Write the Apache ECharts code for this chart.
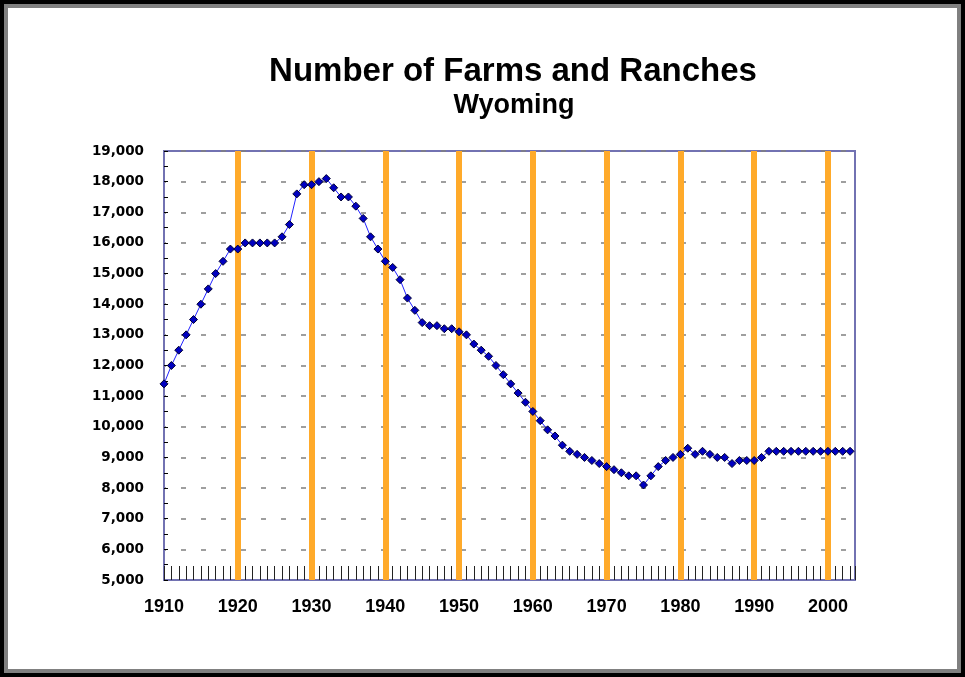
<!DOCTYPE html>
<html>
<head>
<meta charset="utf-8">
<title>Number of Farms and Ranches - Wyoming</title>
<script src="https://cdn.jsdelivr.net/npm/echarts@6/dist/echarts.min.js"></script>
<style>
  html, body { margin: 0; padding: 0; background: #fff; }
  #chart { position: absolute; left: 0; top: 0; width: 965px; height: 677px; }
  #frame {
    position: absolute; left: 0; top: 0; width: 965px; height: 677px;
    box-sizing: border-box; border: 4px solid #000;
    box-shadow: inset 0 0 0 4px #808080; pointer-events: none;
  }
</style>
</head>
<body>
<div id="chart"></div>
<div id="frame"></div>
<script>
// years on the x axis
const years = [
  1910, 1911, 1912, 1913, 1914, 1915, 1916, 1917, 1918, 1919,
  1920, 1921, 1922, 1923, 1924, 1925, 1926, 1927, 1928, 1929,
  1930, 1931, 1932, 1933, 1934, 1935, 1936, 1937, 1938, 1939,
  1940, 1941, 1942, 1943, 1944, 1945, 1946, 1947, 1948, 1949,
  1950, 1951, 1952, 1953, 1954, 1955, 1956, 1957, 1958, 1959,
  1960, 1961, 1962, 1963, 1964, 1965, 1966, 1967, 1968, 1969,
  1970, 1971, 1972, 1973, 1974, 1975, 1976, 1977, 1978, 1979,
  1980, 1981, 1982, 1983, 1984, 1985, 1986, 1987, 1988, 1989,
  1990, 1991, 1992, 1993, 1994, 1995, 1996, 1997, 1998, 1999,
  2000, 2001, 2002, 2003
];
// number of farms and ranches
const farms = [
  11400, 12000, 12500, 13000, 13500, 14000, 14500, 15000, 15400, 15800,
  15800, 16000, 16000, 16000, 16000, 16000, 16200, 16600, 17600, 17900,
  17900, 18000, 18100, 17800, 17500, 17500, 17200, 16800, 16200, 15800,
  15400, 15200, 14800, 14200, 13800, 13400, 13300, 13300, 13200, 13200,
  13100, 13000, 12700, 12500, 12300, 12000, 11700, 11400, 11100, 10800,
  10500, 10200, 9900, 9700, 9400, 9200, 9100, 9000, 8900, 8800,
  8700, 8600, 8500, 8400, 8400, 8100, 8400, 8700, 8900, 9000,
  9100, 9300, 9100, 9200, 9100, 9000, 9000, 8800, 8900, 8900,
  8900, 9000, 9200, 9200, 9200, 9200, 9200, 9200, 9200, 9200,
  9200, 9200, 9200, 9200
];
// orange decade markers
const decadeLines = [1920, 1930, 1940, 1950, 1960, 1970, 1980, 1990, 2000];

const chart = echarts.init(document.getElementById('chart'), null, { renderer: 'canvas' });

const axisBlue = '#7272B2';

chart.setOption({
  animation: false,
  backgroundColor: '#fff',
  title: [{
    text: 'Number of Farms and Ranches',
    left: 508, top: 50, textAlign: 'center',
    textStyle: { fontFamily: 'Liberation Sans, Arial', fontWeight: 'bold', fontSize: 33, color: '#000' }
  }, {
    text: 'Wyoming',
    left: 509, top: 87, textAlign: 'center',
    textStyle: { fontFamily: 'Liberation Sans, Arial', fontWeight: 'bold', fontSize: 27, color: '#000' }
  }],
  grid: {
    left: 164, right: 110, top: 151, bottom: 97,
    show: true, borderColor: axisBlue, borderWidth: 2, backgroundColor: '#fff'
  },
  xAxis: [{
    type: 'value',
    min: 1910, max: 2003.67, interval: 10,
    axisLine: { show: true, lineStyle: { color: axisBlue, width: 2 } },
    axisTick: { show: false },
    splitLine: { show: false },
    axisLabel: {
      showMaxLabel: false, margin: 18, color: '#000',
      fontFamily: 'Liberation Sans, Arial', fontWeight: 'bold', fontSize: 18,
      formatter: v => String(v)
    }
  }, {
    // yearly tick marks along the bottom
    type: 'value', position: 'bottom',
    min: 1910, max: 2003.67, interval: 1,
    axisLine: { show: false },
    axisTick: { show: true, inside: true, length: 14, lineStyle: { color: '#222', width: 1 } },
    axisLabel: { show: false },
    splitLine: { show: false }
  }],
  yAxis: {
    type: 'value',
    min: 5000, max: 19000, interval: 1000,
    axisLine: { show: true, lineStyle: { color: axisBlue, width: 2 } },
    axisTick: { show: true, inside: true, length: 4, lineStyle: { color: '#000' } },
    minorTick: { show: true, splitNumber: 2, length: 4, lineStyle: { color: '#000' } },
    splitLine: {
      show: true,
      lineStyle: { color: '#808080', width: 1.5, type: [5, 15], dashOffset: 3 }
    },
    axisLabel: {
      margin: 20, color: '#000',
      fontFamily: 'DejaVu Sans', fontWeight: 'bold', fontSize: 13.5,
      formatter: v => v.toLocaleString('en-US')
    }
  },
  series: [{
    name: 'decades',
    type: 'line',
    data: [],
    z: 1,
    silent: true,
    markLine: {
      z: 1,
      silent: true,
      symbol: ['none', 'none'],
      label: { show: false },
      lineStyle: { color: '#FFAA2A', width: 6, type: 'solid' },
      data: decadeLines.map(y => ({ xAxis: y }))
    }
  }, {
    name: 'Farms and Ranches',
    type: 'line',
    z: 10,
    data: years.map((y, i) => [y, farms[i]]),
    symbol: 'diamond',
    symbolSize: 8,
    lineStyle: { color: '#2222FF', width: 1 },
    itemStyle: { color: '#0000C0', borderColor: '#000033', borderWidth: 1 }
  }]
});
</script>
</body>
</html>
